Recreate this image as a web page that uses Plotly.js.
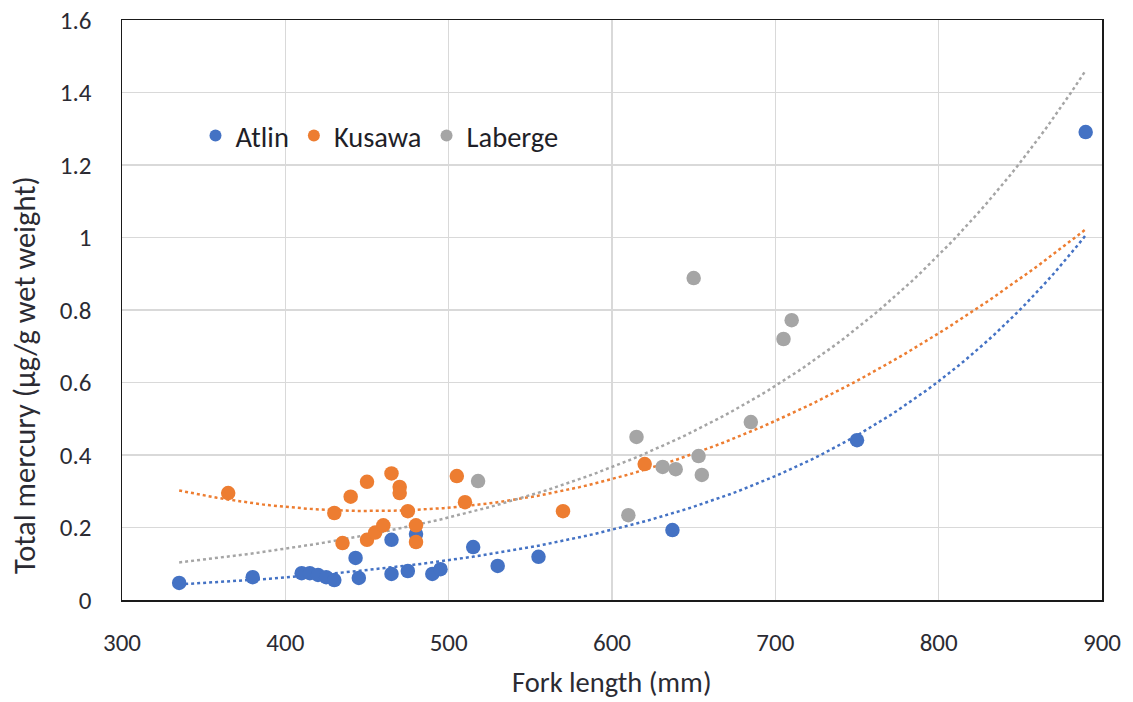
<!DOCTYPE html>
<html>
<head>
<meta charset="utf-8">
<script src="https://cdn.plot.ly/plotly-3.0.1.min.js"></script>
<style>html,body{margin:0;padding:0;background:#fff;}#chart{width:1133px;height:702px;}</style>
</head>
<body>
<div id="chart"></div>
<script>
// Atlin
const atlinX = [335, 380, 410, 415, 420, 425, 430, 443, 445, 465, 465, 475, 480, 490, 495, 515, 530, 555, 637, 750, 890];
const atlinY = [0.047, 0.063, 0.074, 0.074, 0.069, 0.063, 0.055, 0.116, 0.061, 0.166, 0.072, 0.080, 0.182, 0.072, 0.085, 0.146, 0.094, 0.119, 0.193, 0.441, 1.291];
// Kusawa
const kusawaX = [365, 430, 435, 440, 450, 450, 455, 460, 465, 470, 470, 475, 480, 480, 505, 510, 570, 620];
const kusawaY = [0.295, 0.240, 0.157, 0.285, 0.326, 0.166, 0.186, 0.206, 0.349, 0.312, 0.295, 0.245, 0.206, 0.160, 0.342, 0.270, 0.245, 0.375];
// Laberge
const labergeX = [518, 610, 615, 631, 639, 650, 653, 655, 685, 705, 710];
const labergeY = [0.328, 0.234, 0.450, 0.367, 0.361, 0.888, 0.397, 0.345, 0.491, 0.720, 0.772];

const seriesNames = ['Atlin', 'Kusawa', 'Laberge'];
const seriesColors = ['#4472C4', '#ED7D31', '#A5A5A5'];
const trendTypes = ['exp', 'poly2', 'exp'];

const xTicks = [300, 400, 500, 600, 700, 800, 900];
const yTicks = [0, 0.2, 0.4, 0.6, 0.8, 1, 1.2, 1.4, 1.6];
const yTickText = ['0', '0.2', '0.4', '0.6', '0.8', '1', '1.2', '1.4', '1.6'];

const xTitle = 'Fork length (mm)';
const yTitle = 'Total mercury (µg/g wet weight)';

// least squares fits (as a spreadsheet trendline)
function fitExp(xs, ys) {
  const n = xs.length;
  let sx = 0, sy = 0, sxx = 0, sxy = 0;
  for (let i = 0; i < n; i++) {
    const l = Math.log(ys[i]);
    sx += xs[i]; sy += l; sxx += xs[i] * xs[i]; sxy += xs[i] * l;
  }
  const b = (n * sxy - sx * sy) / (n * sxx - sx * sx);
  const a = Math.exp((sy - b * sx) / n);
  return x => a * Math.exp(b * x);
}
function fitPoly2(xs, ys) {
  const S = [0, 0, 0, 0, 0], T = [0, 0, 0];
  for (let i = 0; i < xs.length; i++) {
    let p = 1;
    for (let k = 0; k < 5; k++) { S[k] += p; if (k < 3) T[k] += p * ys[i]; p *= xs[i]; }
  }
  const M = [[S[0], S[1], S[2], T[0]], [S[1], S[2], S[3], T[1]], [S[2], S[3], S[4], T[2]]];
  for (let c = 0; c < 3; c++) {
    for (let r = c + 1; r < 3; r++) {
      const f = M[r][c] / M[c][c];
      for (let k = c; k < 4; k++) M[r][k] -= f * M[c][k];
    }
  }
  const sol = [0, 0, 0];
  for (let r = 2; r >= 0; r--) {
    let s = M[r][3];
    for (let k = r + 1; k < 3; k++) s -= M[r][k] * sol[k];
    sol[r] = s / M[r][r];
  }
  return x => sol[0] + sol[1] * x + sol[2] * x * x;
}

const allX = [atlinX, kusawaX, labergeX];
const allY = [atlinY, kusawaY, labergeY];
const xmin = Math.min(...atlinX, ...kusawaX, ...labergeX);
const xmax = Math.max(...atlinX, ...kusawaX, ...labergeX);

const traces = [];
for (let s = 0; s < 3; s++) {
  const f = trendTypes[s] === 'exp' ? fitExp(allX[s], allY[s]) : fitPoly2(allX[s], allY[s]);
  const tx = [], ty = [];
  const N = 120;
  for (let i = 0; i <= N; i++) {
    const x = xmin + (xmax - xmin) * i / N;
    tx.push(x); ty.push(f(x));
  }
  traces.push({
    x: tx, y: ty, type: 'scatter', mode: 'lines', showlegend: false, hoverinfo: 'skip',
    line: {color: seriesColors[s], width: 2.5, dash: 'dot'}
  });
}
for (let s = 0; s < 3; s++) {
  traces.push({
    x: allX[s], y: allY[s], type: 'scatter', mode: 'markers', name: seriesNames[s],
    marker: {color: seriesColors[s], size: 14.5, line: {width: 0}}
  });
}

const fontFam = 'Calibri, Carlito, Lato, "Open Sans", sans-serif';
const textCol = '#2b2b33';
const layout = {
  width: 1133, height: 702,
  margin: {l: 122, r: 31, t: 20, b: 102},
  paper_bgcolor: '#ffffff', plot_bgcolor: '#ffffff',
  font: {family: fontFam, color: textCol, size: 24},
  showlegend: true,
  legend: {
    orientation: 'h', x: 0.075, y: 0.8, xanchor: 'left', yanchor: 'middle',
    bgcolor: 'rgba(0,0,0,0)', font: {size: 28.5, color: '#1f1f28'},
    itemsizing: 'constant', itemwidth: 30, tracegroupgap: 0
  },
  xaxis: {
    range: [300, 900], tickvals: xTicks, ticktext: xTicks.map(String),
    showgrid: true, gridcolor: '#d9d9d9', gridwidth: 1.5, zeroline: false,
    showline: true, linecolor: '#1a1a1a', linewidth: 1.5, mirror: true,
    ticks: '', ticklabelstandoff: 19, tickfont: {size: 25, color: textCol}
  },
  yaxis: {
    range: [0, 1.6], tickvals: yTicks, ticktext: yTickText,
    showgrid: true, gridcolor: '#d9d9d9', gridwidth: 1.5, zeroline: false,
    showline: true, linecolor: '#1a1a1a', linewidth: 1.5, mirror: true,
    ticks: '', ticklabelstandoff: 24, tickfont: {size: 25, color: textCol}
  },
  annotations: [
    {text: xTitle, xref: 'paper', yref: 'paper', x: 0.5, y: 0, xanchor: 'center', yanchor: 'middle',
     yshift: -82, showarrow: false, font: {size: 28.5, color: textCol}},
    {text: yTitle, xref: 'paper', yref: 'paper', x: 0, y: 0.388, xanchor: 'center', yanchor: 'middle',
     xshift: -97, textangle: -90, showarrow: false, font: {size: 30.5, color: textCol}}
  ]
};
Plotly.newPlot('chart', traces, layout, {displayModeBar: false, staticPlot: true});
</script>
</body>
</html>
